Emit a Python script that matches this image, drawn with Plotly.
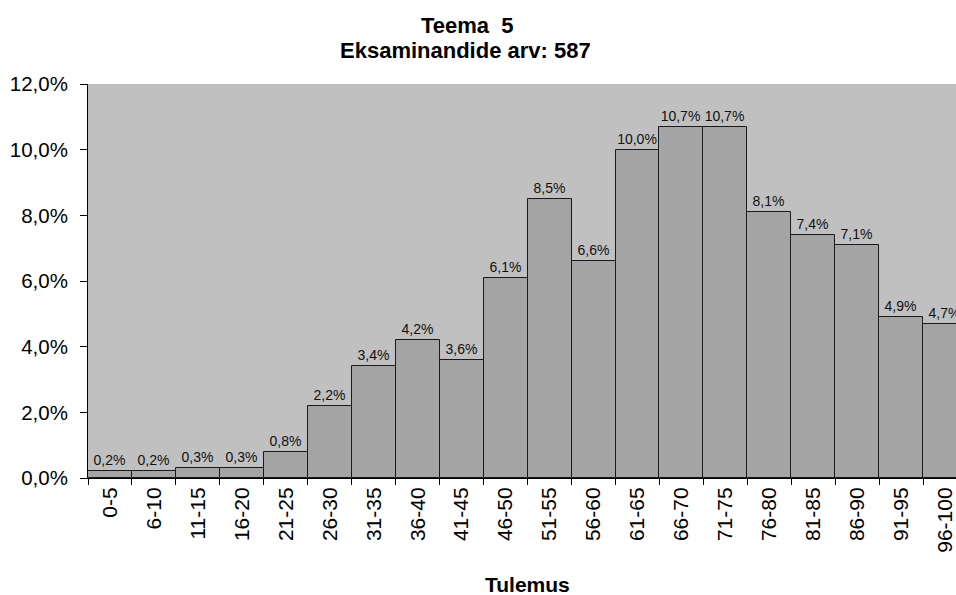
import plotly.graph_objects as go

categories = ["0-5", "6-10", "11-15", "16-20", "21-25", "26-30", "31-35", "36-40",
              "41-45", "46-50", "51-55", "56-60", "61-65", "66-70", "71-75", "76-80",
              "81-85", "86-90", "91-95", "96-100"]
values_pct = [0.2, 0.2, 0.3, 0.3, 0.8, 2.2, 3.4, 4.2, 3.6, 6.1, 8.5, 6.6, 10.0, 10.7,
              10.7, 8.1, 7.4, 7.1, 4.9, 4.7]
values = [v / 100 for v in values_pct]

title_line1 = "Teema\u00a0 5"
title_line2 = "Eksaminandide arv: 587"
x_title = "Tulemus"

FONT = "Liberation Sans, Arial, sans-serif"

fig = go.Figure(go.Bar(
    x=categories,
    y=values,
    marker=dict(color="#A4A4A4", line=dict(color="#1a1a1a", width=1)),
    texttemplate="%{y:.1%}",
    textposition="outside",
    textfont=dict(family=FONT, size=14, color="#111111"),
    cliponaxis=True,
    hoverinfo="skip",
))

fig.update_layout(
    width=956, height=595,
    margin=dict(l=88, r=0, t=84, b=117, autoexpand=False),
    paper_bgcolor="white",
    plot_bgcolor="#C0C0C0",
    bargap=0,
    separators=", ",
    showlegend=False,
    font=dict(family=FONT, color="black"),
    annotations=[
        dict(text="<b>" + title_line1 + "</b>", xref="paper", yref="paper",
             x=(467 - 88) / 868, y=1 + (84 - 25) / 394, xanchor="center", yanchor="middle",
             showarrow=False, font=dict(family=FONT, size=22, color="black")),
        dict(text="<b>" + title_line2 + "</b>", xref="paper", yref="paper",
             x=(465 - 88) / 868, y=1 + (84 - 51) / 394, xanchor="center", yanchor="middle",
             showarrow=False, font=dict(family=FONT, size=22, color="black")),
        dict(text="<b>" + x_title + "</b>", xref="paper", yref="paper",
             x=(527 - 88) / 868, y=0, xanchor="center", yanchor="middle", yshift=-106,
             showarrow=False, font=dict(family=FONT, size=21, color="black")),
    ],
)

fig.update_xaxes(
    automargin=False,
    range=[-0.5, 19.245],
    showline=True, linecolor="black", linewidth=1,
    ticks="outside", tickson="boundaries", ticklen=6, tickcolor="black",
    tickangle=-90,
    tickfont=dict(family=FONT, size=21, color="black"),
    showgrid=False, zeroline=False,
)

fig.update_yaxes(
    automargin=False,
    range=[0, 0.12], dtick=0.02, tickformat=".1%",
    showline=True, linecolor="black", linewidth=1,
    ticks="outside", ticklen=7, tickcolor="black",
    ticklabelstandoff=8,
    tickfont=dict(family=FONT, size=20.5, color="black"),
    showgrid=False, zeroline=False,
)

fig.write_html(
    "out.html",
    config={"displayModeBar": False},
    post_script="document.body.style.margin='0';document.body.style.overflow='hidden';",
)
